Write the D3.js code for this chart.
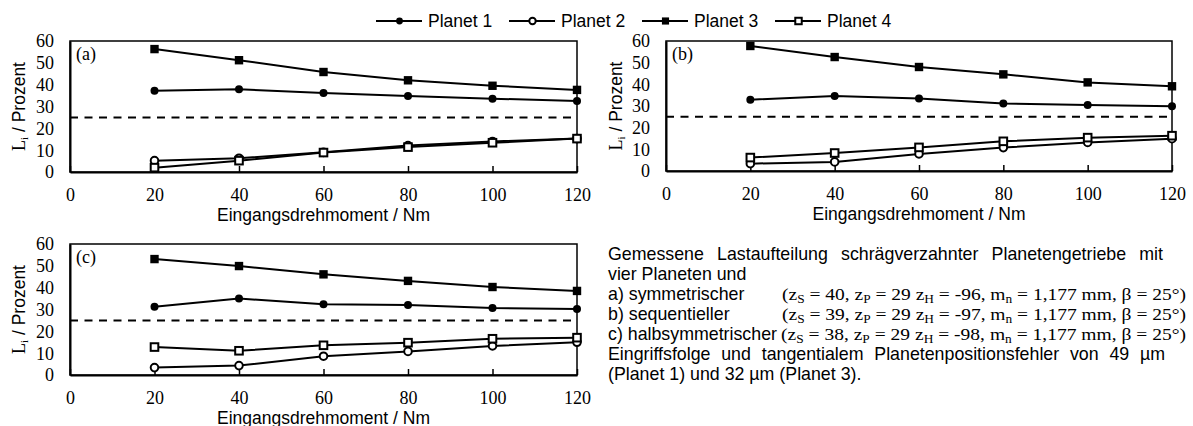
<!DOCTYPE html>
<html><head><meta charset="utf-8">
<script src="https://cdn.jsdelivr.net/npm/d3@7"></script>
<style>body{margin:0;background:#fff}svg{display:block}</style>
</head><body>
<svg id="c" width="1193" height="426"></svg>
<script>
// ---- data ----
const torque = [20, 40, 60, 80, 100, 120];
const xTickValues = [0, 20, 40, 60, 80, 100, 120];
const yTickValues = [0, 10, 20, 30, 40, 50, 60];
const seriesNames = ["Planet 1", "Planet 2", "Planet 3", "Planet 4"];
const equalShare = 25;

const a_planet1 = [37.2, 37.9, 36.2, 34.8, 33.6, 32.5];
const a_planet2 = [5.2, 6.3, 9.0, 12.1, 14.0, 15.3];
const a_planet3 = [56.3, 51.2, 45.8, 42.0, 39.5, 37.6];
const a_planet4 = [2.0, 5.2, 8.9, 11.4, 13.4, 15.3];

const b_planet1 = [32.9, 34.6, 33.5, 31.1, 30.5, 29.9];
const b_planet2 = [3.4, 4.2, 7.9, 10.8, 13.2, 14.9];
const b_planet3 = [57.7, 52.6, 48.0, 44.6, 40.9, 39.1];
const b_planet4 = [6.2, 8.3, 10.9, 13.7, 15.4, 16.3];

const c_planet1 = [31.3, 35.0, 32.4, 32.1, 30.7, 30.2];
const c_planet2 = [3.4, 4.3, 8.6, 10.8, 13.3, 15.0];
const c_planet3 = [53.1, 49.9, 46.1, 43.1, 40.3, 38.5];
const c_planet4 = [12.8, 11.1, 13.6, 14.8, 16.6, 17.1];

const panelLabels = ["(a)", "(b)", "(c)"];
const xTitle = "Eingangsdrehmoment / Nm";

// ---- layout ----
const svg = d3.select("#c");
const SANS = "'Liberation Sans', Arial, sans-serif";
const SERIF = "'Liberation Serif', 'Times New Roman', serif";
const markerTypes = ["dot", "circle", "square", "osquare"];

const panels = [
  {label: panelLabels[0], x0: 70,  x1: 577,  y0: 41,  y1: 172, series: [a_planet1, a_planet2, a_planet3, a_planet4], ylab: 25},
  {label: panelLabels[1], x0: 666, x1: 1172, y0: 41,  y1: 171, series: [b_planet1, b_planet2, b_planet3, b_planet4], ylab: 622},
  {label: panelLabels[2], x0: 70,  x1: 577,  y0: 244, y1: 375, series: [c_planet1, c_planet2, c_planet3, c_planet4], ylab: 25}
];

function drawMarker(g, type, cx, cy, s) {
  if (type === "dot") g.append("circle").attr("cx", cx).attr("cy", cy).attr("r", 4 * s).attr("fill", "#000");
  else if (type === "circle") g.append("circle").attr("cx", cx).attr("cy", cy).attr("r", 3.8 * s).attr("fill", "#fff").attr("stroke", "#000").attr("stroke-width", 2);
  else if (type === "square") g.append("rect").attr("x", cx - 4.2 * s).attr("y", cy - 4.2 * s).attr("width", 8.4 * s).attr("height", 8.4 * s).attr("fill", "#000");
  else g.append("rect").attr("x", cx - 3.8 * s).attr("y", cy - 3.8 * s).attr("width", 7.6 * s).attr("height", 7.6 * s).attr("fill", "#fff").attr("stroke", "#000").attr("stroke-width", 2);
}

panels.forEach(p => {
  const x = d3.scaleLinear().domain([0, 120]).range([p.x0, p.x1]);
  const y = d3.scaleLinear().domain([0, 60]).range([p.y1, p.y0]);
  const g = svg.append("g");

  g.append("rect").attr("x", p.x0).attr("y", p.y0).attr("width", p.x1 - p.x0).attr("height", p.y1 - p.y0)
    .attr("fill", "none").attr("stroke", "#000").attr("stroke-width", 1.5);

  const xa = g.append("g").attr("transform", `translate(0,${p.y1})`)
    .call(d3.axisBottom(x).tickValues(xTickValues).tickSizeInner(-6).tickSizeOuter(0).tickPadding(16));
  xa.select(".domain").attr("stroke-width", 2);
  xa.selectAll(".tick line").attr("stroke-width", 1.5);
  xa.selectAll("text").attr("font-family", SERIF).attr("font-size", 18).attr("fill", "#000");

  const ya = g.append("g").attr("transform", `translate(${p.x0},0)`)
    .call(d3.axisLeft(y).tickValues(yTickValues).tickSize(0).tickPadding(16));
  ya.select(".domain").attr("stroke-width", 2);
  ya.selectAll("text").attr("font-family", SERIF).attr("font-size", 18).attr("fill", "#000").attr("dy", "0.33em");

  g.append("line").attr("x1", x(0)).attr("x2", x(120)).attr("y1", y(equalShare)).attr("y2", y(equalShare))
    .attr("stroke", "#000").attr("stroke-width", 2).attr("stroke-dasharray", "8,6.5");

  const line = d3.line().x((d, i) => x(torque[i])).y(d => y(d));
  p.series.forEach(s => {
    g.append("path").attr("d", line(s)).attr("fill", "none").attr("stroke", "#000").attr("stroke-width", 2);
  });
  p.series.forEach((s, k) => {
    s.forEach((v, i) => drawMarker(g, markerTypes[k], x(torque[i]), y(v), 1));
  });

  g.append("text").attr("x", p.x0 + 6).attr("y", p.y0 + 19).attr("font-family", SERIF).attr("font-size", 18).text(p.label);

  const yl = g.append("text").attr("transform", `translate(${p.ylab},${(p.y0 + p.y1) / 2}) rotate(-90)`)
    .attr("text-anchor", "middle").attr("font-size", 17.5).attr("font-family", SANS);
  yl.append("tspan").attr("font-family", SERIF).attr("font-size", 18).text("L");
  yl.append("tspan").attr("font-family", SERIF).attr("font-size", 11).attr("dy", 3).text("i");
  yl.append("tspan").attr("dy", -3).text(" / Prozent");

  g.append("text").attr("x", (p.x0 + p.x1) / 2).attr("y", p.y1 + 48.5).attr("text-anchor", "middle")
    .attr("font-family", SANS).attr("font-size", 17.5).text(xTitle);
});

// legend
const legStart = 376, legStep = 133, legY = 21;
seriesNames.forEach((name, k) => {
  const lx = legStart + k * legStep;
  const g = svg.append("g");
  g.append("line").attr("x1", lx).attr("x2", lx + 46).attr("y1", legY).attr("y2", legY).attr("stroke", "#000").attr("stroke-width", 2);
  drawMarker(g, markerTypes[k], lx + 23.5, legY, 0.85);
  g.append("text").attr("x", lx + 52).attr("y", legY + 6).attr("font-family", SANS).attr("font-size", 17.5).text(name);
});

// description text
const descX = 608, descFS = 17.8;
function justified(str, y0, right) {
  const words = str.split(" ");
  const t = svg.append("g");
  const nodes = words.map(w => t.append("text").attr("y", y0).attr("font-family", SANS).attr("font-size", descFS).text(w));
  const widths = nodes.map(n => n.node().getComputedTextLength());
  const total = d3.sum(widths);
  const gap = (right - descX - total) / (words.length - 1);
  let cx = descX;
  nodes.forEach((n, i) => { n.attr("x", cx); cx += widths[i] + gap; });
}
function plain(str, y0) {
  svg.append("text").attr("x", descX).attr("y", y0).attr("font-family", SANS).attr("font-size", descFS).text(str);
}
function formula(x0, y0, zs, zh) {
  const t = svg.append("text").attr("x", x0).attr("y", y0).attr("font-family", SERIF).attr("font-size", 17.5);
  const parts = [["(z", 0], ["S", 1], [" = " + zs + ", z", 0], ["P", 1], [" = 29 z", 0], ["H", 1], [" = " + zh + ", m", 0], ["n", 1], [" = 1,177 mm, β = 25°)", 0]];
  let prevSub = 0;
  parts.forEach(([s, sub]) => {
    const ts = t.append("tspan").text(s);
    if (sub) ts.attr("font-size", 12).attr("dy", 3);
    else if (prevSub) ts.attr("dy", -3);
    prevSub = sub;
  });
  t.attr("textLength", 1186 - x0).attr("lengthAdjust", "spacingAndGlyphs");
}
justified("Gemessene Lastaufteilung schrägverzahnter Planetengetriebe mit", 260, 1163);
plain("vier Planeten und", 280);
plain("a) symmetrischer", 300);
formula(782, 300, 40, -96);
plain("b) sequentieller", 320);
formula(782, 320, 39, -97);
plain("c) halbsymmetrischer", 340);
formula(781, 340, 38, -98);
justified("Eingriffsfolge und tangentialem Planetenpositionsfehler von 49 µm", 360, 1165);
plain("(Planet 1) und 32 µm (Planet 3).", 380);
</script>
</body></html>
